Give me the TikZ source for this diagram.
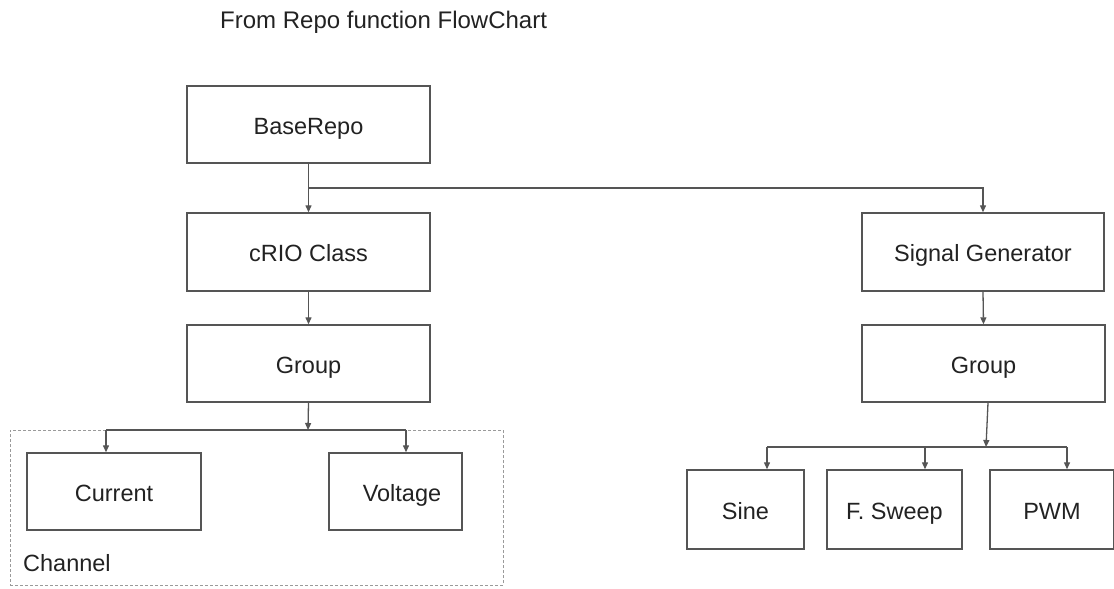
\documentclass[tikz,border=0pt]{standalone}
\usepackage{fontspec}
\setmainfont{Liberation Sans}
\usetikzlibrary{arrows.meta,calc}
\definecolor{edge}{HTML}{555555}
\definecolor{ink}{HTML}{222222}
\definecolor{dashgray}{HTML}{9A9A9A}
\tikzset{
  box/.style={draw=edge, line width=1.4pt, fill=white, text=ink, inner sep=0pt,
              text height=22pt, text depth=3pt,
              font=\fontsize{23.5}{28}\selectfont},
  arr/.style={draw=edge, line width=1.3pt, -{Triangle[length=7pt,width=6pt]}},
  link/.style={draw=edge, line width=1.3pt},
  chanbox/.style={draw=dashgray, line width=1pt, dash pattern=on 3pt off 2pt, inner sep=0pt},
  plain/.style={text=ink, inner sep=0pt, font=\fontsize{23.5}{28}\selectfont}
}
\begin{document}
\begin{tikzpicture}[x=1pt, y=-1pt]
  \useasboundingbox (0,0) rectangle (1114,589);

  % heading
  \node[plain, anchor=base west, font=\fontsize{24}{29}\selectfont] (title) at (220,28) {From Repo function FlowChart};

  % dashed group around the two channel types
  \node[chanbox, minimum width=493pt, minimum height=155pt] (channel) at (256.5,507.5) {};
  \node[plain, anchor=base west] (chanlabel) at (23,571) {Channel};

  % left branch
  \node[box, minimum width=243pt, minimum height=77pt] (base)  at (308.5,124.5) {BaseRepo};
  \node[box, minimum width=243pt, minimum height=78pt] (crio)  at (308.5,252)   {cRIO Class};
  \node[box, minimum width=243pt, minimum height=77pt] (grpL)  at (308.5,363.5) {Group};
  \node[box, minimum width=174pt, minimum height=77pt] (cur)   at (114,491.5)   {Current};
  \node[box, minimum width=133pt, minimum height=77pt] (volt)  at (395.5,491.5) {\hspace*{13pt}Voltage};

  % right branch
  \node[box, minimum width=242pt, minimum height=78pt] (sig)   at (983,252)     {Signal Generator};
  \node[box, minimum width=243pt, minimum height=77pt] (grpR)  at (983.5,363.5) {Group};
  \node[box, minimum width=117pt, minimum height=79pt] (sine)  at (745.5,509.5) {Sine};
  \node[box, minimum width=135pt, minimum height=79pt] (sweep) at (894.5,509.5) {F. Sweep};
  \node[box, minimum width=124pt, minimum height=79pt] (pwm)   at (1052,509.5)  {PWM};

  % branch points
  \coordinate (jTop) at (308,188);
  \coordinate (jL)   at (308,430);
  \coordinate (bCur) at (106,430);
  \coordinate (bVol) at (406,430);
  \coordinate (jR)   at (986,447);
  \coordinate (bSin) at (767,447);
  \coordinate (bSwp) at (925,447);
  \coordinate (bPwm) at (1067,447);

  % top level
  \draw[arr] (base.south) -- (crio.north);
  \draw[arr] (jTop) -| (sig.north);
  \draw[arr] (crio.south) -- (grpL.north);
  \draw[arr] (sig.south) -- (grpR.north);

  % left fan-out
  \draw[arr] (grpL.south) -- (jL);
  \draw[link] (bCur) -- (bVol);
  \draw[arr] (bCur) -- (bCur |- cur.north);
  \draw[arr] (bVol) -- (bVol |- volt.north);

  % right fan-out
  \draw[arr] ([xshift=4.5pt]grpR.south) -- (jR);
  \draw[link] (bSin) -- (bPwm);
  \draw[arr] (bSin) -- (bSin |- sine.north);
  \draw[arr] (bSwp) -- (bSwp |- sweep.north);
  \draw[arr] (bPwm) -- (bPwm |- pwm.north);
\end{tikzpicture}
\end{document}
